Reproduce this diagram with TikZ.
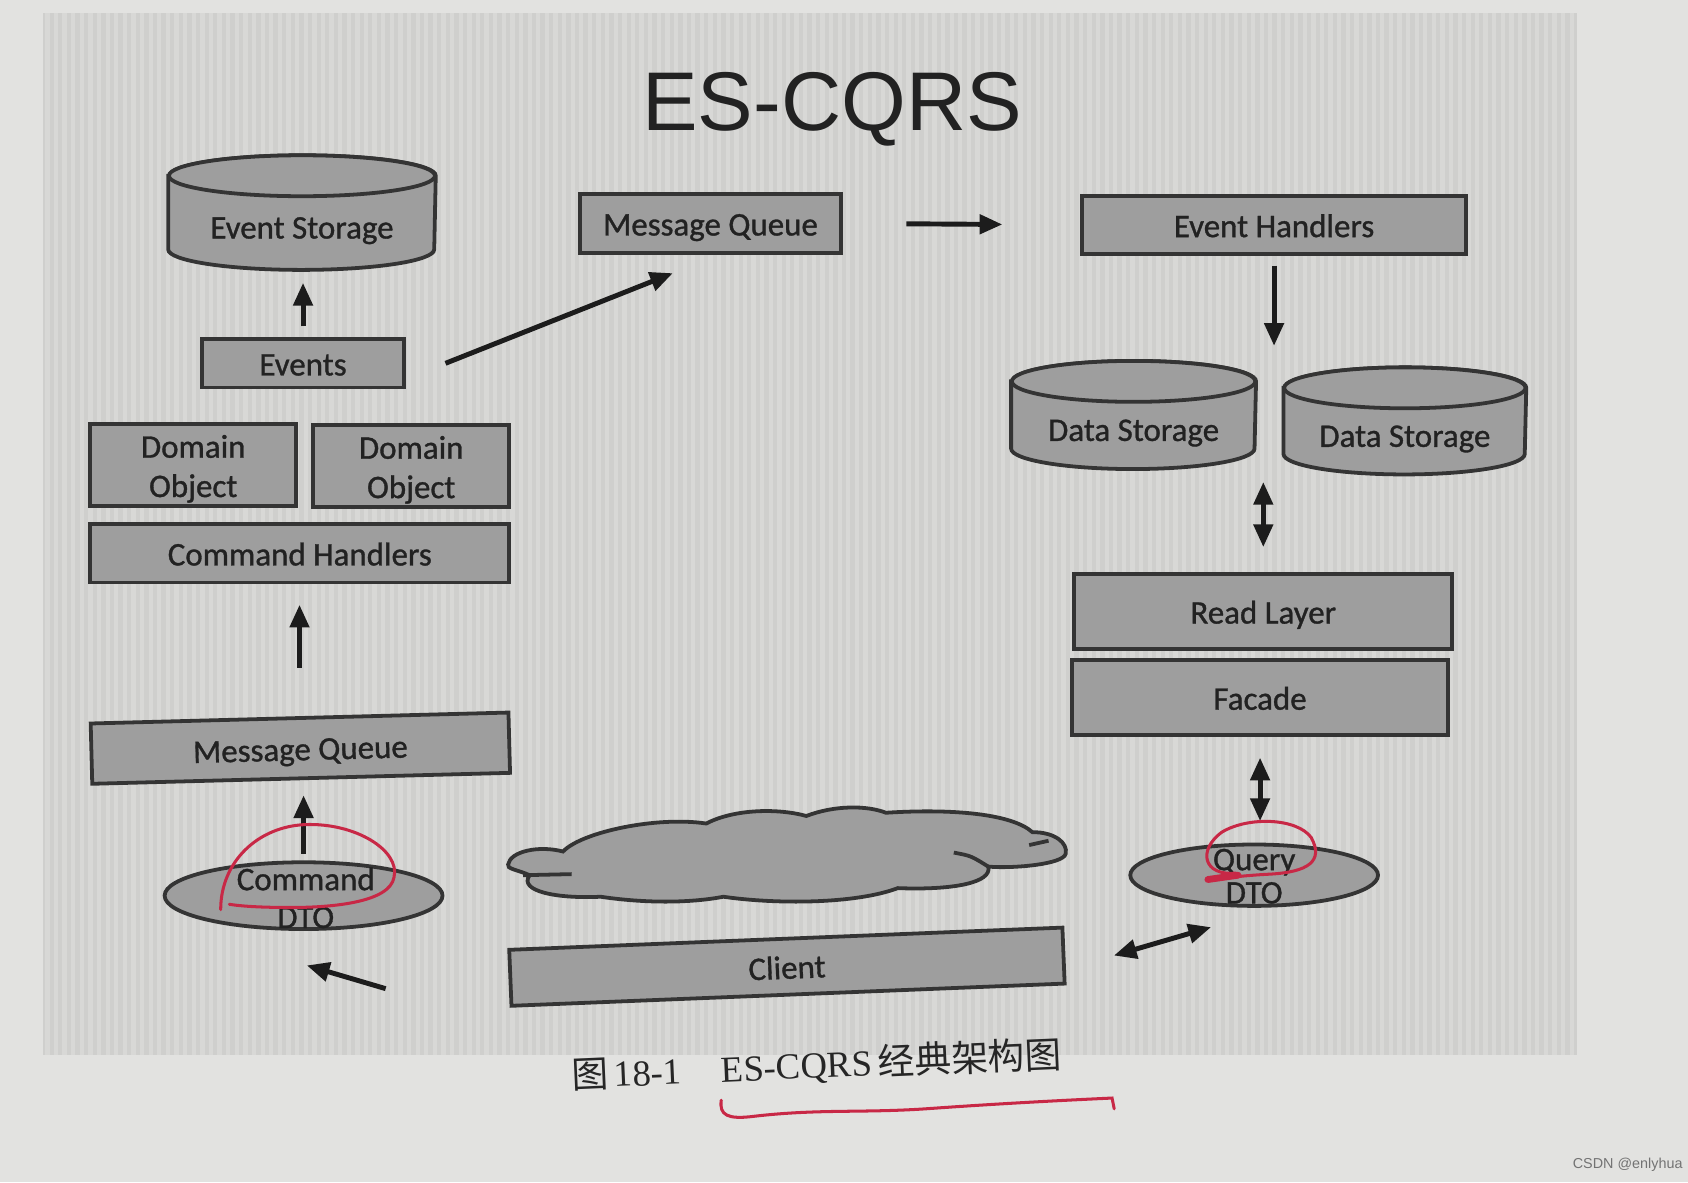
\documentclass[tikz,border=0pt]{standalone}
\usepackage{fontspec}
\setmainfont{Carlito}
\newfontfamily\labelfont{Carlito}[FakeBold=1.0]
\newfontfamily\titlefont{Liberation Sans}
\newfontfamily\capserif{Liberation Serif}
\newfontfamily\cjk{Noto Sans CJK SC}
\usetikzlibrary{arrows.meta,shapes.geometric,backgrounds}
\definecolor{paper}{RGB}{226,226,224}
\definecolor{figbg}{RGB}{207,207,205}
\definecolor{stripe}{RGB}{216,216,214}
\definecolor{boxgray}{RGB}{158,158,158}
\definecolor{edgegray}{RGB}{52,52,52}
\definecolor{inkgray}{RGB}{34,34,34}
\definecolor{arrowink}{RGB}{28,28,28}
\definecolor{penred}{RGB}{200,40,70}

\begin{document}
\begin{tikzpicture}[x=0.01cm,y=-0.01cm,
  >={Triangle[length=6pt,width=5pt]},
  plate/.style={draw=edgegray,fill=boxgray,line width=1pt,inner sep=0pt,text=inkgray,font=\labelfont\fontsize{8.7}{10.4}\selectfont,align=center},
  box/.style={plate,text height=8.4pt,text depth=2pt},
  body/.style={inner sep=0pt,text=inkgray,font=\labelfont\fontsize{8.7}{10.4}\selectfont,text height=10.3pt,text depth=2pt},
  drumline/.style={draw=edgegray,fill=boxgray,line width=1pt},
  dto/.style={ellipse,draw=edgegray,fill=boxgray,line width=1pt,inner sep=0pt},
  lbl/.style={text=inkgray,font=\labelfont\fontsize{8.7}{10}\selectfont,align=center,inner sep=0pt},
  arr/.style={->,line width=1.3pt,draw=arrowink},
  pen/.style={draw=penred,line width=0.8pt,line cap=round}]
\useasboundingbox (0,0) rectangle (1568,1098);

% page and the striped figure area
\begin{scope}[on background layer]
\fill[paper] (0,0) rectangle (1568,1098);
\fill[figbg] (40,12) rectangle (1465,980);
\foreach \sx in {42,50,...,1458} {
  \fill[stripe] (\sx,12) rectangle ++(4,968);
}
\end{scope}

\node[anchor=base,text=inkgray,font=\titlefont\fontsize{22}{26}\selectfont] (title) at (773,121) {ES-CQRS};

% command side
\node[body,minimum width=2.47cm,minimum height=0.86cm] (es) at (280.5,207) {Event Storage};
\node[box,minimum width=1.87cm,minimum height=0.45cm] (ev) at (281.5,337.5) {Events};
\node[plate,text height=18.9pt,text depth=2pt,minimum width=1.91cm,minimum height=0.76cm] (do1) at (179.5,432) {Domain\\Object};
\node[plate,text height=18.9pt,text depth=2pt,minimum width=1.82cm,minimum height=0.76cm] (do2) at (382,433) {Domain\\Object};
\node[box,minimum width=3.89cm,minimum height=0.54cm] (ch) at (278.5,514) {Command Handlers};
\node[box,minimum width=3.88cm,minimum height=0.56cm,rotate=1.5] (mq1) at (279,695) {Message Queue};
\node[dto,minimum width=2.58cm,minimum height=0.62cm] (cdto) at (282,832) {};
\node[lbl] (cdtotext) at (284,834) {Command\\DTO};

% query side
\node[box,minimum width=2.42cm,minimum height=0.55cm] (mq2) at (660,207.5) {Message Queue};
\node[box,minimum width=3.57cm,minimum height=0.54cm] (eh) at (1183.5,209) {Event Handlers};
\node[body,minimum width=2.26cm,minimum height=0.80cm] (ds1) at (1053,395) {Data Storage};
\node[body,minimum width=2.24cm,minimum height=0.79cm] (ds2) at (1305,400.5) {Data Storage};
\node[box,minimum width=3.51cm,minimum height=0.70cm] (rl) at (1173.5,568) {Read Layer};
\node[box,minimum width=3.49cm,minimum height=0.70cm] (fa) at (1170.5,648) {Facade};
\node[dto,minimum width=2.30cm,minimum height=0.57cm] (qdto) at (1165,813) {};
\node[lbl,font=\labelfont\fontsize{8.7}{8.8}\selectfont] (qdtotext) at (1165,814) {Query\\DTO};

\node[box,minimum width=5.14cm,minimum height=0.52cm,rotate=2.3] (cl) at (731,898) {Client};

% drums behind their labels
\begin{scope}[on background layer]
\foreach \d/\r in {es/1.235cm,ds1/1.13cm,ds2/1.12cm} {
  \filldraw[drumline] (\d.north west) -- ([yshift=0.19cm]\d.south west)
    arc[start angle=180,end angle=360,x radius=\r,y radius=0.19cm]
    -- (\d.north east) arc[start angle=0,end angle=180,x radius=\r,y radius=0.19cm] -- cycle;
  \draw[drumline] (\d.north) ellipse[x radius=\r,y radius=0.19cm];
}
\end{scope}

% cloud
\filldraw[drumline] (472,803) .. controls (474,791) and (500,785) .. (523,791)
  .. controls (540,773) and (610,758) .. (656,765)
  .. controls (683,751) and (724,751) .. (749,758)
  .. controls (775,748) and (805,748) .. (823,755)
  .. controls (885,751) and (940,756) .. (959,773)
  .. controls (980,773) and (992,783) .. (990,793)
  .. controls (988,803) and (940,807) .. (918,805)
  .. controls (922,820) and (885,827) .. (834,825)
  .. controls (794,840) and (720,840) .. (672,833)
  .. controls (635,840) and (591,838) .. (558,833)
  .. controls (518,835) and (481,828) .. (492,813)
  .. controls (481,808) and (470,807) .. (472,803) -- cycle;
\draw[drumline,fill=none] (886,792) .. controls (902,795) .. (918,805);
\draw[drumline,fill=none] (956,785) -- (974,781);
\draw[drumline,fill=none] (486,813) -- (531,812);

% arrows
\draw[arr,shorten <=0.1cm,shorten >=0.12cm] (ev.north) -- (ev.north |- es.south);
\draw[arr,shorten <=0.45cm,shorten >=0.19cm] (mq1.north) -- (mq1.north |- ch.south);
\draw[arr,shorten <=0.06cm,shorten >=0.14cm] (cdto.north) -- (cdto.north |- mq1.south);
\draw[arr] ([xshift=-1.14cm,yshift=-0.1cm]cl.west) -- ([xshift=0.03cm,yshift=-0.32cm]cdto.south);
\draw[arr] ([xshift=0.37cm]ev.east) -- ([xshift=-0.35cm,yshift=-0.17cm]mq2.south);
\draw[arr,shorten <=0.59cm,shorten >=0.72cm] (mq2.east) -- (eh.west);
\draw[arr,shorten <=0.09cm,shorten >=0.33cm] (eh.south) -- (eh.south |- ds1.north);
\draw[arr,<->,shorten <=0.23cm,shorten >=0.12cm] (rl.north) -- (rl.north |- ds1.south);
\draw[arr,<->,shorten <=0.19cm,shorten >=0.2cm] (fa.south) -- (fa.south |- qdto.north);
\draw[arr,<->] ([xshift=0.45cm]cl.east) -- ([xshift=-0.4cm,yshift=-0.18cm]qdto.south);

% caption
\node[anchor=base west,rotate=2.5,text=black!85,font=\fontsize{9.7}{11}\selectfont] (cap) at (519,1012)
  {{\cjk 图}\,{\capserif 18-1}\hspace{0.37cm}{\capserif ES-CQRS}\,{\cjk 经典架构图}};
\node[text=black!55,font=\titlefont\fontsize{3.8}{4.5}\selectfont] (mark) at (1512,1082) {CSDN @enlyhua};

% red pen marks
\draw[pen] (205,845) .. controls (205,800) and (240,768) .. (283,766)
  .. controls (330,764) and (372,790) .. (366,815)
  .. controls (362,838) and (310,843) .. (270,843)
  .. controls (245,843) and (225,842) .. (213,840);
\draw[pen] (1148,811) .. controls (1118,814) and (1112,790) .. (1135,773)
  .. controls (1160,758) and (1205,760) .. (1218,778)
  .. controls (1230,800) and (1215,810) .. (1180,812)
  .. controls (1160,813) and (1140,815) .. (1122,818);
\draw[pen,line width=1.8pt] (1122,817) -- (1150,813);
\draw[pen] (670,1022) .. controls (668,1036) and (676,1040) .. (700,1037)
  .. controls (760,1030) and (800,1034) .. (860,1030)
  .. controls (930,1025) and (990,1022) .. (1033,1020) -- (1035,1030);
\end{tikzpicture}
\end{document}
